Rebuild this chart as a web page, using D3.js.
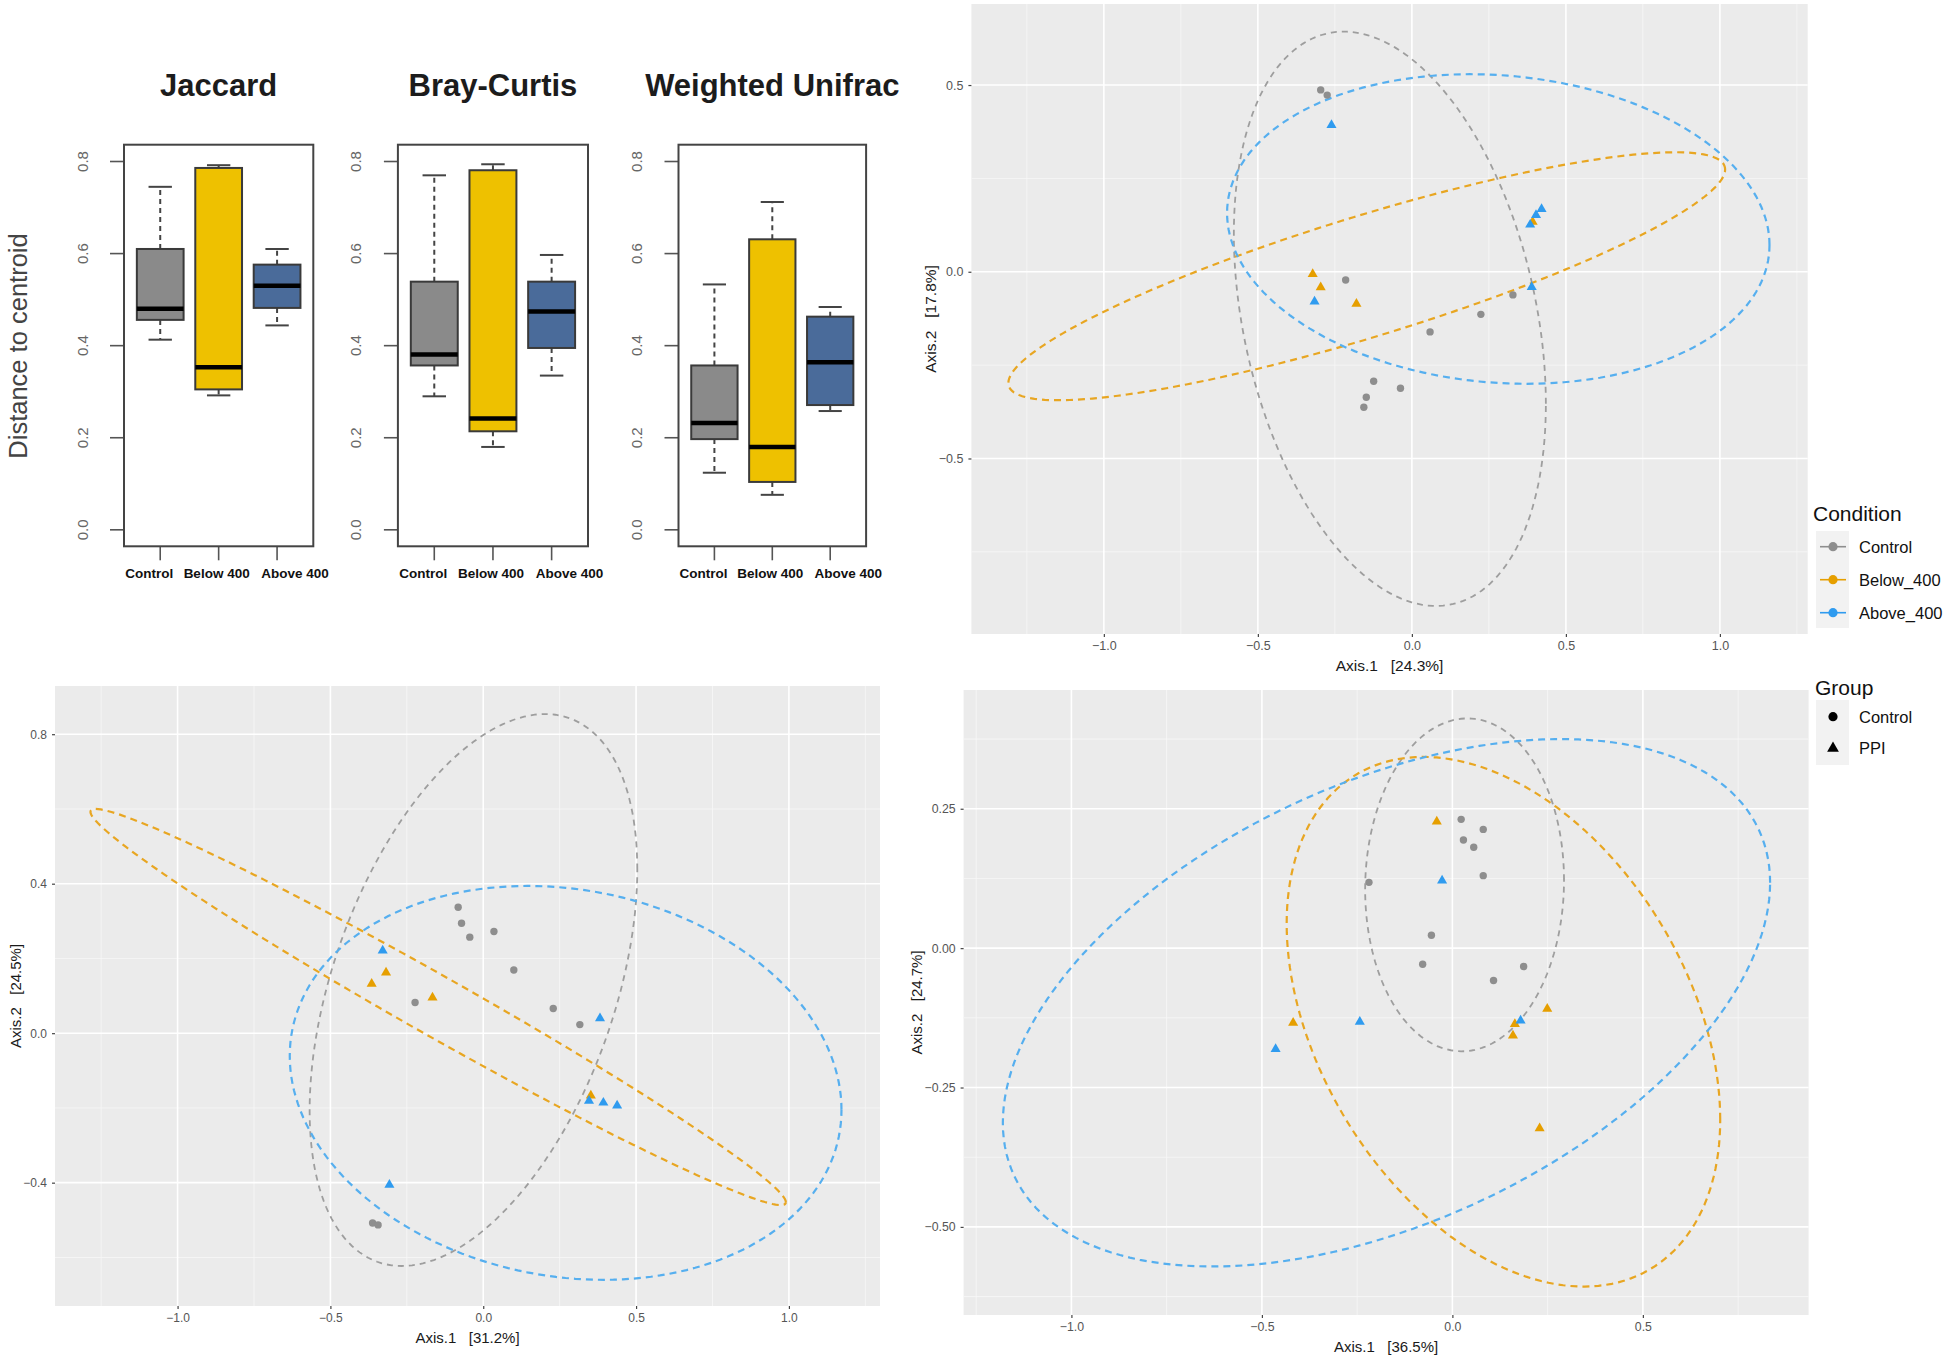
<!DOCTYPE html>
<html><head><meta charset="utf-8">
<script src="https://cdn.jsdelivr.net/npm/d3@7"></script>
<style>
body{margin:0;background:#fff;}
svg{display:block;font-family:"Liberation Sans",Arial,Helvetica,sans-serif;}
</style>
</head><body>
<svg id="chart" width="1948" height="1358"></svg>
<script>
// ---------------- DATA ----------------
const boxTitles = ["Jaccard", "Bray-Curtis", "Weighted Unifrac"];
const boxGroups = ["Control", "Below 400", "Above 400"];
const boxTicks = [0.0, 0.2, 0.4, 0.6, 0.8];
// [lower whisker, Q1, median, Q3, upper whisker] per group
const jaccardBox  = [[0.413, 0.456, 0.480, 0.610, 0.745], [0.292, 0.305, 0.353, 0.786, 0.792], [0.444, 0.482, 0.530, 0.576, 0.610]];
const brayBox     = [[0.290, 0.357, 0.381, 0.539, 0.770], [0.180, 0.214, 0.242, 0.781, 0.794], [0.335, 0.395, 0.474, 0.539, 0.597]];
const unifracBox  = [[0.124, 0.197, 0.232, 0.357, 0.533], [0.076, 0.104, 0.180, 0.631, 0.712], [0.258, 0.271, 0.364, 0.463, 0.484]];

const conditionNames = ["Control", "Below_400", "Above_400"];
const groupNames = ["Control", "PPI"];

// Top-right ordination
const trControl = [[-0.296, 0.487], [-0.275, 0.473], [-0.215, -0.022], [0.059, -0.161], [-0.124, -0.293], [-0.037, -0.312], [-0.148, -0.336], [-0.156, -0.363], [0.224, -0.114], [0.328, -0.062]];
const trBelow   = [[-0.322, -0.006], [-0.296, -0.042], [-0.180, -0.086], [0.392, 0.134]];
const trAbove   = [[-0.261, 0.393], [-0.316, -0.080], [0.421, 0.168], [0.403, 0.152], [0.384, 0.126], [0.389, -0.041]];
// ellipses: [centre x, centre y, half-width x, half-height y, cos(phase)]
const trEllipses = [[-0.0715, -0.126, 0.5065, 0.769, -0.296], [-0.1465, -0.012, 1.1635, 0.332, 0.861], [0.2805, 0.1145, 0.8805, 0.4145, -0.103]];

// Bottom-left ordination
const blControl = [[-0.082, 0.337], [-0.071, 0.294], [-0.044, 0.257], [0.035, 0.272], [0.100, 0.169], [-0.223, 0.082], [0.229, 0.066], [0.316, 0.023], [-0.362, -0.508], [-0.344, -0.513]];
const blBelow   = [[-0.318, 0.162], [-0.365, 0.132], [-0.166, 0.095], [0.352, -0.167]];
const blAbove   = [[-0.329, 0.221], [0.382, 0.040], [0.346, -0.181], [0.393, -0.186], [0.438, -0.194], [-0.307, -0.406]];
const blEllipses = [[-0.032, 0.1155, 0.536, 0.7385, 0.437], [-0.1475, 0.07, 1.1375, 0.53, -0.985], [0.2695, -0.133, 0.9025, 0.527, -0.137]];

// Bottom-right ordination
const brControl = [[-0.219, 0.118], [-0.055, 0.023], [-0.078, -0.029], [0.023, 0.231], [0.081, 0.213], [0.029, 0.194], [0.056, 0.181], [0.081, 0.130], [0.187, -0.033], [0.108, -0.058]];
const brBelow   = [[-0.041, 0.227], [-0.418, -0.134], [0.249, -0.109], [0.164, -0.136], [0.159, -0.157], [0.229, -0.323]];
const brAbove   = [[-0.027, 0.121], [-0.243, -0.132], [-0.464, -0.181], [0.179, -0.130]];
const brEllipses = [[0.032, 0.1135, 0.261, 0.2985, 0.028], [0.134, -0.132, 0.569, 0.475, -0.37], [-0.173, -0.098, 1.007, 0.473, 0.455]];

const trXTicks = [-1.0, -0.5, 0.0, 0.5, 1.0], trYTicks = [-0.5, 0.0, 0.5];
const blXTicks = [-1.0, -0.5, 0.0, 0.5, 1.0], blYTicks = [-0.4, 0.0, 0.4, 0.8];
const brXTicks = [-1.0, -0.5, 0.0, 0.5],      brYTicks = [-0.50, -0.25, 0.00, 0.25];
const trAxisTitles = ["Axis.1   [24.3%]", "Axis.2   [17.8%]"];
const blAxisTitles = ["Axis.1   [31.2%]", "Axis.2   [24.5%]"];
const brAxisTitles = ["Axis.1   [36.5%]", "Axis.2   [24.7%]"];

// ---------------- STYLE ----------------
const boxFill = ["#8a8a8a", "#EEC100", "#4A6B9A"];
const ptColor = ["#8E8E8E", "#E69F00", "#2F9BEF"];
const elColor = ["#9E9E9E", "#E8A622", "#56AFEF"];

const svg = d3.select("#chart");
svg.append("rect").attr("width", 1948).attr("height", 1358).attr("fill", "#fff");

// ---------------- BOXPLOTS ----------------
const boxPanels = [
  {left: 124, right: 313.3, stats: jaccardBox, title: boxTitles[0]},
  {left: 397.9, right: 588, stats: brayBox, title: boxTitles[1]},
  {left: 678.5, right: 866.1, stats: unifracBox, title: boxTitles[2]}
];
const boxTop = 144.7, boxBottom = 546.3;
const labelShift = [-11, -2, 18];

boxPanels.forEach(p => {
  const g = svg.append("g");
  const x = d3.scaleLinear().domain([0.38, 3.62]).range([p.left, p.right]);
  const y = d3.scaleLinear().domain([-0.0358, 0.8365]).range([boxBottom, boxTop]);
  g.append("text").attr("x", (p.left + p.right) / 2).attr("y", 96)
    .attr("text-anchor", "middle").attr("font-size", 31).attr("font-weight", "bold")
    .attr("fill", "#1c1c1c").text(p.title);
  boxTicks.forEach(t => {
    g.append("line").attr("x1", p.left - 14).attr("x2", p.left).attr("y1", y(t)).attr("y2", y(t))
      .attr("stroke", "#555").attr("stroke-width", 1.6);
    g.append("text").attr("transform", `translate(${p.left - 42},${y(t)}) rotate(-90)`)
      .attr("text-anchor", "middle").attr("dominant-baseline", "central")
      .attr("font-size", 15).attr("fill", "#666").text(t.toFixed(1));
  });
  p.stats.forEach((s, i) => {
    const c = i + 1;
    const [lo, q1, med, q3, hi] = s;
    g.append("line").attr("x1", x(c)).attr("x2", x(c)).attr("y1", y(q3)).attr("y2", y(hi))
      .attr("stroke", "#444").attr("stroke-width", 2).attr("stroke-dasharray", "5,4");
    g.append("line").attr("x1", x(c)).attr("x2", x(c)).attr("y1", y(q1)).attr("y2", y(lo))
      .attr("stroke", "#444").attr("stroke-width", 2).attr("stroke-dasharray", "5,4");
    [lo, hi].forEach(v => g.append("line").attr("x1", x(c - 0.2)).attr("x2", x(c + 0.2))
      .attr("y1", y(v)).attr("y2", y(v)).attr("stroke", "#444").attr("stroke-width", 2));
    g.append("rect").attr("x", x(c - 0.4)).attr("width", x(c + 0.4) - x(c - 0.4))
      .attr("y", y(q3)).attr("height", y(q1) - y(q3))
      .attr("fill", boxFill[i]).attr("stroke", "#3a3a3a").attr("stroke-width", 2);
    g.append("line").attr("x1", x(c - 0.4)).attr("x2", x(c + 0.4)).attr("y1", y(med)).attr("y2", y(med))
      .attr("stroke", "#000").attr("stroke-width", 4.5);
    g.append("line").attr("x1", x(c)).attr("x2", x(c)).attr("y1", boxBottom).attr("y2", boxBottom + 14)
      .attr("stroke", "#555").attr("stroke-width", 1.6);
    g.append("text").attr("x", x(c) + labelShift[i]).attr("y", 578).attr("text-anchor", "middle")
      .attr("font-size", 13.5).attr("font-weight", "bold").attr("fill", "#111").text(boxGroups[i]);
  });
  g.append("rect").attr("x", p.left).attr("y", boxTop).attr("width", p.right - p.left)
    .attr("height", boxBottom - boxTop).attr("fill", "none").attr("stroke", "#444").attr("stroke-width", 2);
});
svg.append("text").attr("transform", "translate(18,346) rotate(-90)")
  .attr("text-anchor", "middle").attr("dominant-baseline", "central")
  .attr("font-size", 25.5).attr("fill", "#444").text("Distance to centroid");

// ---------------- ORDINATION PANELS ----------------
function ellipsePoints(e) {
  const [cx, cy, rx, ry, c] = e;
  const phi = Math.acos(c);
  return d3.range(0, 361, 2).map(a => {
    const t = a * Math.PI / 180;
    return [cx + rx * Math.cos(t), cy + ry * Math.cos(t - phi)];
  });
}

function drawPcoa(cfg) {
  const g = svg.append("g");
  const x = d3.scaleLinear().domain(cfg.xDomain).range([cfg.left, cfg.right]);
  const y = d3.scaleLinear().domain(cfg.yDomain).range([cfg.bottom, cfg.top]);
  g.append("rect").attr("x", cfg.left).attr("y", cfg.top).attr("width", cfg.right - cfg.left)
    .attr("height", cfg.bottom - cfg.top).attr("fill", "#EBEBEB");
  const step = cfg.xTicks[1] - cfg.xTicks[0];
  const ystep = cfg.yTicks[1] - cfg.yTicks[0];
  const xMinor = d3.range(cfg.xTicks[0] - step / 2, cfg.xDomain[1], step).filter(v => v > cfg.xDomain[0]);
  const yMinor = d3.range(cfg.yTicks[0] - ystep / 2, cfg.yDomain[1], ystep).filter(v => v > cfg.yDomain[0]);
  xMinor.forEach(v => g.append("line").attr("x1", x(v)).attr("x2", x(v)).attr("y1", cfg.top).attr("y2", cfg.bottom)
    .attr("stroke", "#F7F7F7").attr("stroke-width", 0.8));
  yMinor.forEach(v => g.append("line").attr("y1", y(v)).attr("y2", y(v)).attr("x1", cfg.left).attr("x2", cfg.right)
    .attr("stroke", "#F7F7F7").attr("stroke-width", 0.8));
  cfg.xTicks.forEach(v => g.append("line").attr("x1", x(v)).attr("x2", x(v)).attr("y1", cfg.top).attr("y2", cfg.bottom)
    .attr("stroke", "#fff").attr("stroke-width", 1.6));
  cfg.yTicks.forEach(v => g.append("line").attr("y1", y(v)).attr("y2", y(v)).attr("x1", cfg.left).attr("x2", cfg.right)
    .attr("stroke", "#fff").attr("stroke-width", 1.6));

  const ax = g.append("g").attr("transform", `translate(0,${cfg.bottom})`)
    .call(d3.axisBottom(x).tickValues(cfg.xTicks).tickSize(3).tickPadding(4).tickFormat(d3.format(cfg.xFmt)));
  const ay = g.append("g").attr("transform", `translate(${cfg.left},0)`)
    .call(d3.axisLeft(y).tickValues(cfg.yTicks).tickSize(3).tickPadding(5).tickFormat(d3.format(cfg.yFmt)));
  [ax, ay].forEach(a => {
    a.select(".domain").remove();
    a.selectAll(".tick line").attr("stroke", "#444").attr("stroke-width", 1.2);
    a.selectAll(".tick text").attr("fill", "#555").attr("font-size", cfg.tickFont)
      .attr("font-family", "'Liberation Sans',Arial,sans-serif");
  });
  g.append("text").attr("x", (cfg.left + cfg.right) / 2).attr("y", cfg.bottom + 31.5)
    .attr("text-anchor", "middle").attr("dominant-baseline", "central")
    .attr("font-size", cfg.titleFont).attr("fill", "#1a1a1a").attr("xml:space", "preserve").text(cfg.titles[0]);
  g.append("text").attr("transform", `translate(${cfg.yTitleX},${(cfg.top + cfg.bottom) / 2}) rotate(-90)`)
    .attr("text-anchor", "middle").attr("dominant-baseline", "central")
    .attr("font-size", cfg.titleFont).attr("fill", "#1a1a1a").attr("xml:space", "preserve").text(cfg.titles[1]);

  const line = d3.line().x(d => x(d[0])).y(d => y(d[1]));
  cfg.ellipses.forEach((e, i) => {
    g.append("path").attr("d", line(ellipsePoints(e))).attr("fill", "none")
      .attr("stroke", elColor[i]).attr("stroke-width", i === 0 ? 1.8 : 2.2)
      .attr("stroke-dasharray", i === 0 ? "6,5" : "7,5");
  });
  cfg.points.forEach((pts, i) => {
    pts.forEach(d => {
      if (i === 0) {
        g.append("circle").attr("cx", x(d[0])).attr("cy", y(d[1])).attr("r", 3.7).attr("fill", ptColor[i]);
      } else {
        g.append("path").attr("d", d3.symbol(d3.symbolTriangle, 44)())
          .attr("transform", `translate(${x(d[0])},${y(d[1])})`).attr("fill", ptColor[i]);
      }
    });
  });
}

drawPcoa({left: 971.4, right: 1807.7, top: 4, bottom: 634,
  xDomain: [-1.43, 1.285], yDomain: [-0.970, 0.717],
  xTicks: trXTicks, yTicks: trYTicks, xFmt: ".1f", yFmt: ".1f",
  titles: trAxisTitles, yTitleX: 930, tickFont: 12.5, titleFont: 15.5,
  ellipses: trEllipses, points: [trControl, trBelow, trAbove]});

drawPcoa({left: 55, right: 880, top: 686, bottom: 1306,
  xDomain: [-1.401, 1.298], yDomain: [-0.730, 0.929],
  xTicks: blXTicks, yTicks: blYTicks, xFmt: ".1f", yFmt: ".1f",
  titles: blAxisTitles, yTitleX: 15, tickFont: 12, titleFont: 15,
  ellipses: blEllipses, points: [blControl, blBelow, blAbove]});

drawPcoa({left: 963.6, right: 1808.6, top: 690, bottom: 1315,
  xDomain: [-1.283, 0.935], yDomain: [-0.658, 0.463],
  xTicks: brXTicks, yTicks: brYTicks, xFmt: ".1f", yFmt: ".2f",
  titles: brAxisTitles, yTitleX: 916, tickFont: 12.3, titleFont: 15,
  ellipses: brEllipses, points: [brControl, brBelow, brAbove]});

// ---------------- LEGENDS ----------------
const leg = svg.append("g");
leg.append("text").attr("x", 1813).attr("y", 521).attr("font-size", 21).attr("fill", "#111").text("Condition");
leg.append("rect").attr("x", 1816).attr("y", 531).attr("width", 33).attr("height", 97).attr("fill", "#F2F2F2");
conditionNames.forEach((n, i) => {
  const cy = 546.7 + i * 33;
  leg.append("line").attr("x1", 1820).attr("x2", 1846).attr("y1", cy).attr("y2", cy)
    .attr("stroke", ptColor[i]).attr("stroke-width", 1.6);
  leg.append("circle").attr("cx", 1833).attr("cy", cy).attr("r", 4.6).attr("fill", ptColor[i]);
  leg.append("text").attr("x", 1859).attr("y", cy).attr("dominant-baseline", "central")
    .attr("font-size", 16.5).attr("fill", "#111").text(n);
});
leg.append("text").attr("x", 1815).attr("y", 694.5).attr("font-size", 21).attr("fill", "#111").text("Group");
leg.append("rect").attr("x", 1816).attr("y", 700).attr("width", 33).attr("height", 65).attr("fill", "#F2F2F2");
groupNames.forEach((n, i) => {
  const cy = 716.7 + i * 31.6;
  if (i === 0) leg.append("circle").attr("cx", 1833).attr("cy", cy).attr("r", 4.6).attr("fill", "#000");
  else leg.append("path").attr("d", d3.symbol(d3.symbolTriangle, 60)()).attr("transform", `translate(1833,${cy})`).attr("fill", "#000");
  leg.append("text").attr("x", 1859).attr("y", cy).attr("dominant-baseline", "central")
    .attr("font-size", 16.5).attr("fill", "#111").text(n);
});
</script>
</body></html>
